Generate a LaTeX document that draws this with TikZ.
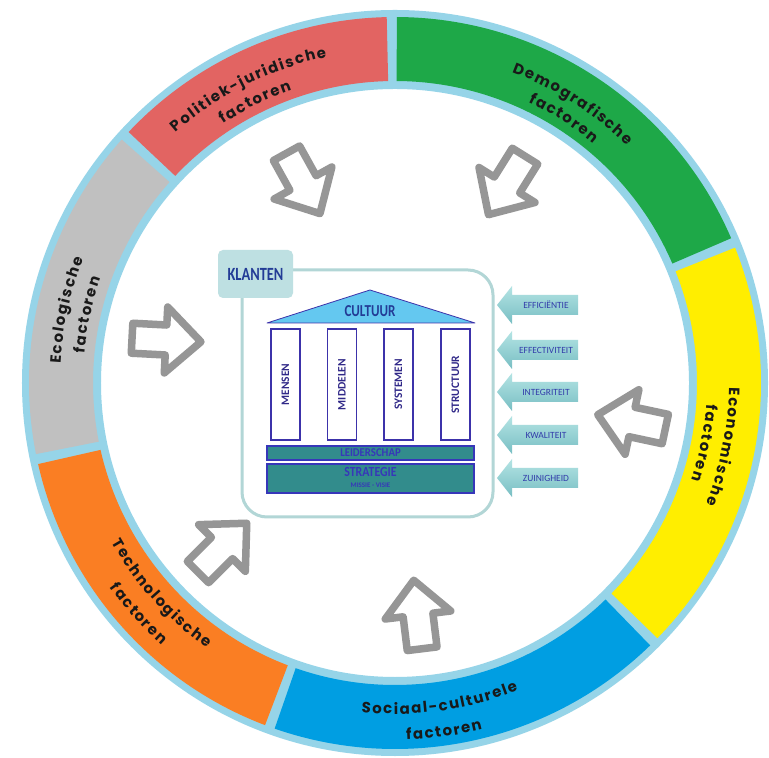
\documentclass[tikz,border=0pt]{standalone}
\usepackage{fontspec}
\setmainfont{Carlito}
\newfontfamily\segfont{Poppins}
\usetikzlibrary{decorations.text}
\definecolor{ringblue}{RGB}{150,212,232}
\definecolor{segred}{RGB}{226,100,98}
\definecolor{seggreen}{RGB}{30,168,72}
\definecolor{segyellow}{RGB}{255,238,0}
\definecolor{segblue}{RGB}{0,158,226}
\definecolor{segorange}{RGB}{250,126,35}
\definecolor{seggray}{RGB}{192,192,192}
\definecolor{arrgray}{RGB}{150,150,150}
\definecolor{framecol}{RGB}{178,214,214}
\definecolor{klfill}{RGB}{190,224,226}
\definecolor{darkblue}{RGB}{35,60,150}
\definecolor{pillblue}{RGB}{60,50,170}
\definecolor{roofcol}{RGB}{100,200,240}
\definecolor{barfill}{RGB}{50,140,140}
\definecolor{bartext}{RGB}{55,55,185}
\definecolor{arrtop}{RGB}{180,228,228}
\definecolor{arrbot}{RGB}{120,190,195}
\definecolor{labblue}{RGB}{50,60,170}
\def\lsp{\kern1.6bp}
\newcommand\segtxt{\segfont\bfseries\fontsize{15}{17}\selectfont\color{black!90}}
\newcommand\seg[3]{%
  \pgfmathsetmacro\segA{#1+0.8}\pgfmathsetmacro\segB{#2-0.8}%
  \fill[#3] (\segA:366) arc[start angle=\segA, end angle=\segB, radius=366bp]
    -- (\segB:302) arc[start angle=\segB, end angle=\segA, radius=302bp] -- cycle;}
\newcommand\cwtext[3]{%
  \pgfmathsetmacro\tA{#1+32}\pgfmathsetmacro\tB{#1-32}%
  \path[decorate, decoration={text along path, text align=center, text={|\segtxt|#3}}]
    (\tA:#2) arc[start angle=\tA, end angle=\tB, radius=#2bp];}
\newcommand\ccwtext[3]{%
  \pgfmathsetmacro\tA{#1-32}\pgfmathsetmacro\tB{#1+32}%
  \path[decorate, decoration={text along path, text align=center, text={|\segtxt|#3}}]
    (\tA:#2) arc[start angle=\tA, end angle=\tB, radius=#2bp];}
\newcommand\grayarrow[4]{%
  \begin{scope}[shift={(#2,#3)}, rotate=#4]
    \draw[grayarr] (-34,-15) -- (0,-15) -- (0,-33) -- (35,0) -- (0,33) -- (0,15) -- (-34,15) -- cycle;
    \coordinate (#1) at (0,0);
  \end{scope}}
\newcommand\sidearrow[3]{%
  \draw[sidearr] (497,#2) -- (512,#2+19) -- (512,#2+10) -- (578,#2+10) -- (578,#2-10) -- (512,#2-10) -- (512,#2-19) -- cycle;
  \node[sidelabel] (#1) at (546,#2) {#3};}
\tikzset{
  grayarr/.style={draw=arrgray, line width=7.5bp, fill=white, line join=round},
  framebox/.style={draw=framecol, line width=3bp, rounded corners=25bp},
  klbox/.style={fill=klfill, rounded corners=5bp, minimum width=75bp, minimum height=48bp, inner sep=0pt,
    text=darkblue, font=\bfseries\fontsize{17}{18}\selectfont},
  roof/.style={fill=roofcol, draw=pillblue, line width=0.8bp, line join=round},
  pillarbox/.style={draw=pillblue, line width=1.5bp, fill=white, rotate=90, minimum width=111bp,
    minimum height=29bp, inner sep=0pt, text=pillblue!80!black, font=\bfseries\fontsize{11.5}{12}\selectfont},
  barbox/.style={fill=barfill, draw=bartext, line width=1.2bp, minimum width=207bp, inner sep=0pt},
  bartxt/.style={text=bartext, inner sep=0pt},
  sidearr/.style={top color=arrtop, bottom color=arrbot, draw=none},
  sidelabel/.style={text=labblue, inner sep=0pt, font=\fontsize{9.5}{10}\selectfont},
}
\begin{document}
\begin{tikzpicture}[x=1bp, y=1bp]
\useasboundingbox (0,0) rectangle (769,758);
\fill[white] (0,0) rectangle (769,758);
% ring
\begin{scope}[shift={(395,375)}]
  \fill[ringblue, even odd rule] (0,0) circle[radius=373bp] (0,0) circle[radius=294bp];
  \seg{22.5}{90.5}{seggreen}
  \seg{90.5}{137.5}{segred}
  \seg{137.5}{192}{seggray}
  \seg{192}{250}{segorange}
  \seg{250}{315}{segblue}
  \seg{315}{382.5}{segyellow}
  \cwtext{116.5}{333}{{P\lsp}{o\lsp}{l\lsp}{i\lsp}{t\lsp}{i\lsp}{e\lsp}{k\lsp}{-\lsp}{j\lsp}{u\lsp}{r\lsp}{i\lsp}{d\lsp}{i\lsp}{s\lsp}{c\lsp}{h\lsp}{e}}
  \cwtext{116.5}{311}{{f\lsp}{a\lsp}{c\lsp}{t\lsp}{o\lsp}{r\lsp}{e\lsp}{n}}
  \cwtext{57.5}{332}{{D\lsp}{e\lsp}{m\lsp}{o\lsp}{g\lsp}{r\lsp}{a\lsp}{f\lsp}{i\lsp}{s\lsp}{c\lsp}{h\lsp}{e}}
  \cwtext{57.5}{311}{{f\lsp}{a\lsp}{c\lsp}{t\lsp}{o\lsp}{r\lsp}{e\lsp}{n}}
  \cwtext{-11}{334}{{E\lsp}{c\lsp}{o\lsp}{n\lsp}{o\lsp}{m\lsp}{i\lsp}{s\lsp}{c\lsp}{h\lsp}{e}}
  \cwtext{-11}{312}{{f\lsp}{a\lsp}{c\lsp}{t\lsp}{o\lsp}{r\lsp}{e\lsp}{n}}
  \cwtext{167.5}{335}{{E\lsp}{c\lsp}{o\lsp}{l\lsp}{o\lsp}{g\lsp}{i\lsp}{s\lsp}{c\lsp}{h\lsp}{e}}
  \cwtext{167.5}{312}{{f\lsp}{a\lsp}{c\lsp}{t\lsp}{o\lsp}{r\lsp}{e\lsp}{n}}
  \ccwtext{222}{325}{{T\lsp}{e\lsp}{c\lsp}{h\lsp}{n\lsp}{o\lsp}{l\lsp}{o\lsp}{g\lsp}{i\lsp}{s\lsp}{c\lsp}{h\lsp}{e}}
  \ccwtext{222}{351}{{f\lsp}{a\lsp}{c\lsp}{t\lsp}{o\lsp}{r\lsp}{e\lsp}{n}}
  \ccwtext{278}{331}{{S\lsp}{o\lsp}{c\lsp}{i\lsp}{a\lsp}{a\lsp}{l\lsp}{-\lsp}{c\lsp}{u\lsp}{l\lsp}{t\lsp}{u\lsp}{r\lsp}{e\lsp}{l\lsp}{e}}
  \ccwtext{278}{357}{{f\lsp}{a\lsp}{c\lsp}{t\lsp}{o\lsp}{r\lsp}{e\lsp}{n}}
\end{scope}
% gray arrows
\grayarrow{ga1}{303}{575}{-61}
\grayarrow{ga2}{507}{573}{-122}
\grayarrow{ga3}{166}{418}{-3}
\grayarrow{ga4}{632}{336}{168}
\grayarrow{ga5}{222}{210}{45}
\grayarrow{ga6}{418}{143}{97}
% central frame
\draw[framebox] (242,241) rectangle (493,488);
\node[klbox] (klanten) at (255.5,484) {\scalebox{0.85}[1.1]{KLANTEN}};
\draw[roof] (267,435) -- (370,468) -- (475,435) -- cycle;
\node[text=darkblue, inner sep=0pt, font=\bfseries\fontsize{16}{17}\selectfont] (cultuur) at (370,447) {\scalebox{0.82}[1.05]{CULTUUR}};
\node[pillarbox] (p1) at (285.5,373.5) {MENSEN};
\node[pillarbox] (p2) at (342,373.5) {MIDDELEN};
\node[pillarbox] (p3) at (398.5,373.5) {SYSTEMEN};
\node[pillarbox] (p4) at (455.5,373.5) {STRUCTUUR};
\node[barbox, minimum height=14bp] (leid) at (370.5,305) {};
\node[bartxt, font=\bfseries\fontsize{12}{12}\selectfont] (leidt) at (370.5,305) {\scalebox{0.9}[1]{LEIDERSCHAP}};
\node[barbox, minimum height=29bp] (strat) at (370.5,279.5) {};
\node[bartxt, font=\bfseries\fontsize{14}{15}\selectfont] (stratt) at (370.5,286) {\scalebox{0.85}[1]{STRATEGIE}};
\node[bartxt, font=\bfseries\fontsize{7}{8}\selectfont] (missie) at (370.5,272.5) {MISSIE - VISIE};
% side arrows
\sidearrow{eff}{453}{EFFICIËNTIE}
\sidearrow{effe}{408}{EFFECTIVITEIT}
\sidearrow{integ}{366}{INTEGRITEIT}
\sidearrow{kwal}{323}{KWALITEIT}
\sidearrow{zuin}{280}{ZUINIGHEID}
\end{tikzpicture}
\end{document}
